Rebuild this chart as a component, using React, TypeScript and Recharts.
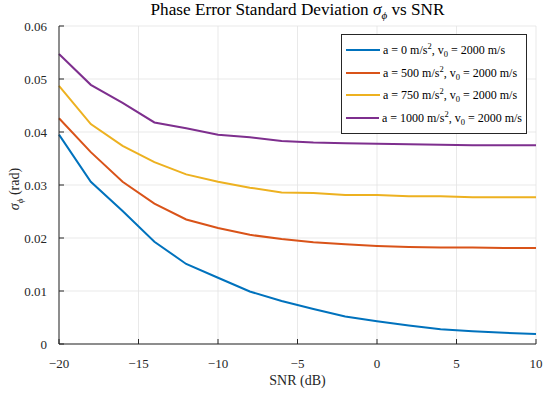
import { LineChart, Line, XAxis, YAxis, CartesianGrid, Legend } from 'recharts'

// SNR (dB) sample points
const snr = [-20, -18, -16, -14, -12, -10, -8, -6, -4, -2, 0, 2, 4, 6, 8, 10]

// phase error std (rad) for each acceleration
const sigmaA0 = [0.0395, 0.0306, 0.0251, 0.0193, 0.0151, 0.0125, 0.0099, 0.0081, 0.0066, 0.0052, 0.0043, 0.0035, 0.0028, 0.0024, 0.0021, 0.0019]
const sigmaA500 = [0.0426, 0.0362, 0.0306, 0.0265, 0.0235, 0.0219, 0.0206, 0.0198, 0.0192, 0.0188, 0.0185, 0.0183, 0.0182, 0.0182, 0.0181, 0.0181]
const sigmaA750 = [0.0487, 0.0415, 0.0374, 0.0343, 0.0320, 0.0306, 0.0295, 0.0286, 0.0285, 0.0281, 0.0281, 0.0279, 0.0279, 0.0277, 0.0277, 0.0277]
const sigmaA1000 = [0.0547, 0.0489, 0.0455, 0.0418, 0.0407, 0.0395, 0.0390, 0.0383, 0.0380, 0.0379, 0.0378, 0.0377, 0.0376, 0.0375, 0.0375, 0.0375]

const accelerations = [0, 500, 750, 1000]
const v0 = 2000

const xTicks = [-20, -15, -10, -5, 0, 5, 10]
const yTicks = [0, 0.01, 0.02, 0.03, 0.04, 0.05, 0.06]

const colors = ['#0072BD', '#D95319', '#EDB120', '#7E2F8E']
const seriesKeys = ['a0', 'a500', 'a750', 'a1000']
const seriesValues = [sigmaA0, sigmaA500, sigmaA750, sigmaA1000]

const data = snr.map((x, i) => {
  const row: Record<string, number> = { snr: x }
  seriesKeys.forEach((k, j) => {
    row[k] = seriesValues[j][i]
  })
  return row
})

const font = '"Liberation Serif", "Times New Roman", serif'
const axisColor = '#262626'

const minus = (v: number) => String(v).replace('-', '\u2212')

function MatlabLegend() {
  return (
    <div
      style={{
        border: `1px solid ${axisColor}`,
        background: '#fff',
        padding: '4px 4px 4px 4px',
        fontFamily: font,
        fontSize: 12,
        color: '#000',
        boxSizing: 'border-box',
      }}
    >
      {accelerations.map((a, i) => (
        <div key={a} style={{ display: 'flex', alignItems: 'center', height: 22.5 }}>
          <span style={{ display: 'inline-block', width: 34, height: 2, background: colors[i], marginRight: 3 }} />
          <span style={{ whiteSpace: 'nowrap' }}>
            a = {a} m/s<sup style={{ fontSize: 8.5 }}>2</sup>, v<sub style={{ fontSize: 8.5 }}>0</sub> = {v0} m/s
          </span>
        </div>
      ))}
    </div>
  )
}

export default function App() {
  return (
    <div style={{ position: 'absolute', left: 0, top: 0, width: 550, height: 394, background: '#fff', fontFamily: font }}>
      <div
        style={{
          position: 'absolute',
          left: 59,
          width: 477,
          top: 0,
          textAlign: 'center',
          fontSize: 17.2,
          color: '#000',
          whiteSpace: 'nowrap',
        }}
      >
        Phase Error Standard Deviation <i>σ</i>
        <sub style={{ fontSize: 11 }}><i>ϕ</i></sub> vs SNR
      </div>
      <div
        style={{
          position: 'absolute',
          left: 16,
          top: 189,
          transform: 'translate(-50%, -50%) rotate(-90deg)',
          fontSize: 14,
          color: '#262626',
          whiteSpace: 'nowrap',
        }}
      >
        <i>σ</i>
        <sub style={{ fontSize: 9 }}><i>ϕ</i></sub> (rad)
      </div>
      <div
        style={{
          position: 'absolute',
          left: 59,
          width: 477,
          top: 373,
          textAlign: 'center',
          fontSize: 14,
          color: '#262626',
        }}
      >
        SNR (dB)
      </div>
      <LineChart
        width={550}
        height={394}
        data={data}
        margin={{ top: 26, right: 14, bottom: 0, left: 0 }}
      >
        <CartesianGrid stroke="#e3e3e3" strokeWidth={0.8} xAxisId="bottom" yAxisId="left" />
        <XAxis
          xAxisId="bottom"
          dataKey="snr"
          type="number"
          domain={[-20, 10]}
          ticks={xTicks}
          tickFormatter={minus}
          tickSize={-5}
          tickMargin={20}
          height={50}
          stroke={axisColor}
          tick={{ fontSize: 13, fill: '#262626', fontFamily: font }}
        />
        <XAxis
          xAxisId="top"
          orientation="top"
          dataKey="snr"
          type="number"
          domain={[-20, 10]}
          ticks={xTicks}
          tick={false}
          tickSize={-5}
          height={0}
          stroke={axisColor}
        />
        <YAxis
          yAxisId="left"
          type="number"
          domain={[0, 0.06]}
          ticks={yTicks}
          tickSize={-5}
          tickMargin={17}
          width={59}
          stroke={axisColor}
          tick={{ fontSize: 13, fill: '#262626', fontFamily: font }}
        />
        <YAxis
          yAxisId="right"
          orientation="right"
          type="number"
          domain={[0, 0.06]}
          ticks={yTicks}
          tick={false}
          tickSize={-5}
          width={0}
          stroke={axisColor}
        />
        <Legend
          layout="vertical"
          align="center"
          verticalAlign="middle"
          wrapperStyle={{ top: 34, left: 341, width: 186 }}
          content={() => <MatlabLegend />}
        />
        {seriesKeys.map((k, i) => (
          <Line
            key={k}
            xAxisId="bottom"
            yAxisId="left"
            type="linear"
            dataKey={k}
            name={`a = ${accelerations[i]} m/s^2, v_0 = ${v0} m/s`}
            stroke={colors[i]}
            strokeWidth={2}
            dot={false}
            isAnimationActive={false}
          />
        ))}
      </LineChart>
    </div>
  )
}
